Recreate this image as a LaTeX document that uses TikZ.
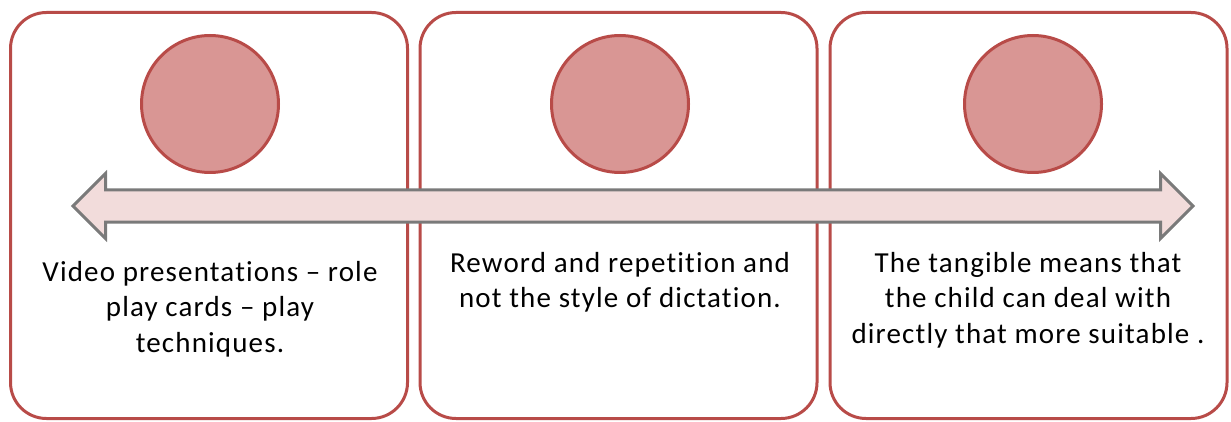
\documentclass[tikz,border=0pt]{standalone}
\usepackage{fontspec}
\setmainfont[LetterSpace=4,Ligatures=NoCommon]{Carlito}
\usetikzlibrary{shapes.arrows}
\definecolor{rahmen}{HTML}{B84B48}
\definecolor{kreis}{HTML}{D99694}
\definecolor{pfeil}{HTML}{F2DCDB}
\definecolor{pfeilrand}{HTML}{7A7A7A}

\begin{document}
\begin{tikzpicture}[x=1pt,y=-1pt,
    karte/.style={draw=rahmen, line width=3pt, rounded corners=36pt,
      minimum width=397pt, minimum height=406pt, inner sep=0pt},
    punkt/.style={circle, draw=rahmen, fill=kreis, line width=3pt,
      minimum size=137pt, inner sep=0pt},
    zeitpfeil/.style={double arrow, draw=pfeilrand, fill=pfeil, line width=3pt,
      minimum height=1120pt, double arrow head extend=16.5pt,
      inner xsep=0pt, inner ysep=14.5pt},
    beschriftung/.style={align=center, font=\fontsize{29}{35.5}\selectfont,
      inner sep=0pt, anchor=north}]
    \useasboundingbox (0,0) rectangle (1231,422);
    % Karten:
    \node[karte] (karte1) at (209,215.5) {}; % links
    \node[karte] (karte2) at (618.5,215.5) {}; % Mitte
    \node[karte] (karte3) at (1028.5,215.5) {}; % rechts
    % Kreise:
    \node[punkt] (punkt1) at (210,104) {};
    \node[punkt] (punkt2) at (620,104) {};
    \node[punkt] (punkt3) at (1033,104) {};
    % Doppelpfeil:
    \node[zeitpfeil] (pfeil) at (633,206) {};
    % Texte:
    \node[beschriftung] (text1) at (210,261) {Video presentations -- role\\play cards -- play\\techniques.};
    \node[beschriftung] (text2) at (620,252) {Reword and repetition  and\\not the style of dictation.};
    \node[beschriftung] (text3) at (1028,252) {The tangible means that\\the child can deal with\\directly that more suitable .};
\end{tikzpicture}
\end{document}
